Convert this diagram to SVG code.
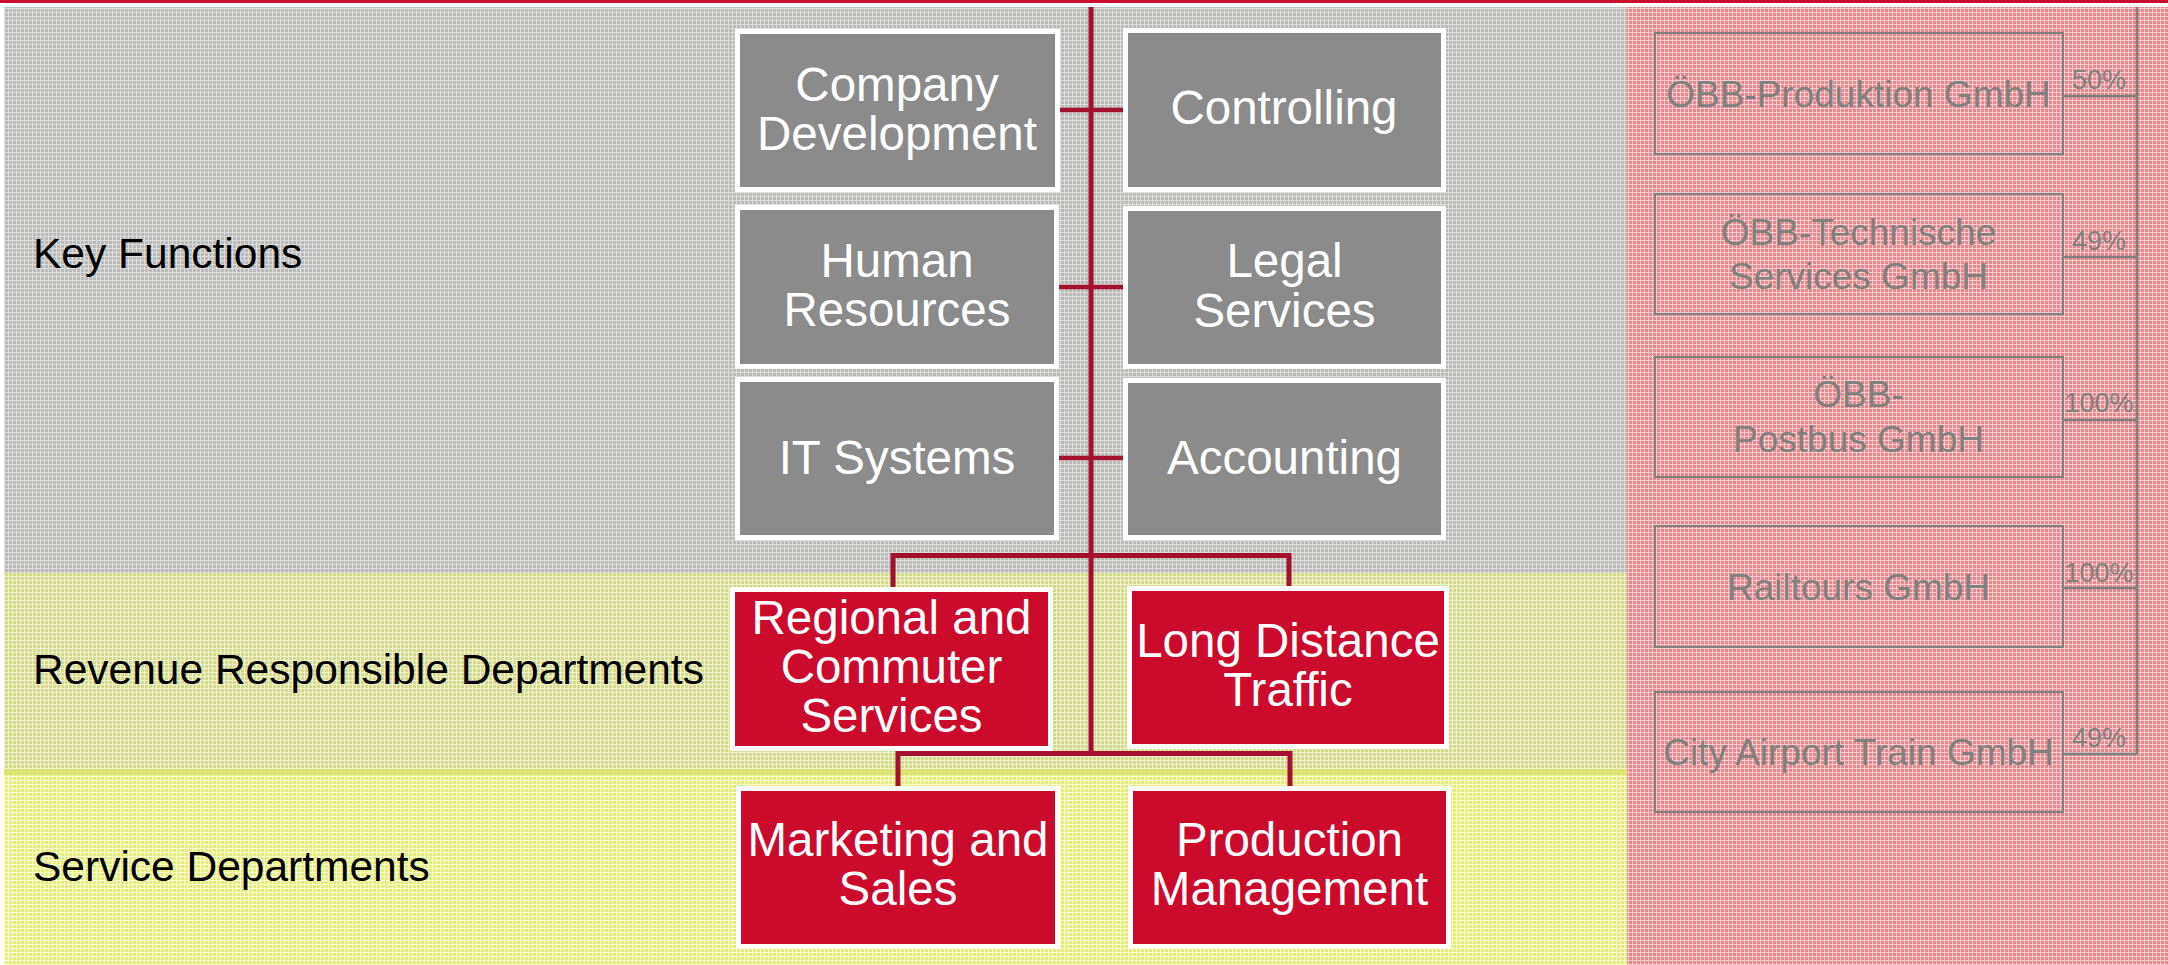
<svg xmlns="http://www.w3.org/2000/svg" width="2168" height="965" viewBox="0 0 2168 965">
  <defs>
    <!-- fine grid textures for the background bands -->
    <pattern id="texGray" width="4" height="4" patternUnits="userSpaceOnUse">
      <rect width="4" height="4" fill="#bababa"/>
      <path d="M0 0.5H4M0.5 0V4" stroke="#dcdcda" stroke-width="1"/>
    </pattern>
    <pattern id="texRevenue" width="4" height="4" patternUnits="userSpaceOnUse">
      <rect width="4" height="4" fill="#d4d98b"/>
      <path d="M0 0.5H4M0.5 0V4" stroke="#f0f2cd" stroke-width="1"/>
    </pattern>
    <pattern id="texService" width="4" height="4" patternUnits="userSpaceOnUse">
      <rect width="4" height="4" fill="#e4ed7d"/>
      <path d="M0 0.5H4M0.5 0V4" stroke="#f8fbcd" stroke-width="1"/>
    </pattern>
    <pattern id="texPink" width="4" height="4" patternUnits="userSpaceOnUse">
      <rect width="4" height="4" fill="#e6868d"/>
      <path d="M0 0.5H4M0.5 0V4" stroke="#f8cbce" stroke-width="1"/>
    </pattern>
  </defs>
  <style>
    text { font-family: "Liberation Sans", Arial, sans-serif; }
    .band-label { font-size: 42.5px; fill: #000000; }
    .box-gray { fill: #8b8b8b; stroke: #ffffff; stroke-width: 5; }
    .box-red { fill: #cb0a2c; stroke: #ffffff; stroke-width: 5; }
    .box-label { font-size: 47.5px; fill: #ffffff; text-anchor: middle; }
    .sub-box { fill: none; stroke: #808080; stroke-width: 2; }
    .sub-label { font-size: 37px; fill: #808080; text-anchor: middle; }
    .pct { font-size: 27px; fill: #808080; text-anchor: middle; }
    .org-line { fill: none; stroke: #a3112f; stroke-width: 5; }
    .stub { fill: none; stroke: #a3112f; stroke-width: 4.5; }
    .share-line { fill: none; stroke: #808080; stroke-width: 2.5; }
  </style>

  <!-- page background and top rule -->
  <rect x="0" y="0" width="2168" height="965" fill="#ffffff"/>
  <rect x="0" y="0" width="2168" height="3" fill="#c8102e"/>

  <!-- horizontal bands -->
  <g id="bands">
    <rect x="4" y="7" width="1623" height="566" fill="url(#texGray)"/>
    <rect x="4" y="573" width="1623" height="197" fill="url(#texRevenue)"/>
    <rect x="4" y="770" width="1623" height="195" fill="url(#texService)"/>
    <rect x="4" y="769" width="1623" height="6" fill="#d8e16a" opacity="0.8"/>
    <rect x="1627" y="7" width="541" height="958" fill="url(#texPink)"/>
  </g>

  <g id="band-labels">
    <text class="band-label" x="33" y="268">Key Functions</text>
    <text class="band-label" x="33" y="684">Revenue Responsible Departments</text>
    <text class="band-label" x="33" y="881">Service Departments</text>
  </g>

  <!-- org chart connectors -->
  <g id="connectors">
    <path class="org-line" d="M1091 7V756"/>
    <path class="stub" d="M1060 110H1123"/>
    <path class="stub" d="M1059 287H1123"/>
    <path class="stub" d="M1059 458H1123"/>
    <path class="org-line" d="M893 588V555.5H1289V587"/>
    <path class="org-line" d="M898 787V753.5H1290V787"/>
    <!-- shareholding lines -->
    <path class="share-line" d="M2137 7V754"/>
    <path class="share-line" d="M2063 96H2137"/>
    <path class="share-line" d="M2063 257H2137"/>
    <path class="share-line" d="M2063 420H2137"/>
    <path class="share-line" d="M2063 588H2137"/>
    <path class="share-line" d="M2063 754H2137"/>
  </g>

  <!-- key functions -->
  <g id="company-development">
    <rect class="box-gray" x="737.5" y="31.5" width="320" height="158"/>
    <text class="box-label" x="897" y="101">Company</text>
    <text class="box-label" x="897" y="150">Development</text>
  </g>
  <g id="controlling">
    <rect class="box-gray" x="1125.5" y="30.5" width="318" height="159"/>
    <text class="box-label" x="1284" y="124">Controlling</text>
  </g>
  <g id="human-resources">
    <rect class="box-gray" x="737.5" y="207.5" width="319" height="159"/>
    <text class="box-label" x="897" y="277">Human</text>
    <text class="box-label" x="897" y="326">Resources</text>
  </g>
  <g id="legal-services">
    <rect class="box-gray" x="1125.5" y="208.5" width="318" height="158"/>
    <text class="box-label" x="1284.5" y="277">Legal</text>
    <text class="box-label" x="1284.5" y="327">Services</text>
  </g>
  <g id="it-systems">
    <rect class="box-gray" x="737.5" y="379.5" width="319" height="158"/>
    <text class="box-label" x="897" y="474">IT Systems</text>
  </g>
  <g id="accounting">
    <rect class="box-gray" x="1125.5" y="380.5" width="318" height="157"/>
    <text class="box-label" x="1284.5" y="474">Accounting</text>
  </g>

  <!-- revenue responsible departments -->
  <g id="regional-commuter">
    <rect class="box-red" x="732.5" y="589.5" width="318" height="159"/>
    <text class="box-label" x="891.5" y="634">Regional and</text>
    <text class="box-label" x="891.5" y="683">Commuter</text>
    <text class="box-label" x="891.5" y="732">Services</text>
  </g>
  <g id="long-distance">
    <rect class="box-red" x="1129.5" y="588.5" width="317" height="158"/>
    <text class="box-label" x="1288" y="657">Long Distance</text>
    <text class="box-label" x="1288" y="706">Traffic</text>
  </g>

  <!-- service departments -->
  <g id="marketing-sales">
    <rect class="box-red" x="738.5" y="788.5" width="319" height="158"/>
    <text class="box-label" x="898" y="856">Marketing and</text>
    <text class="box-label" x="898" y="905">Sales</text>
  </g>
  <g id="production-management">
    <rect class="box-red" x="1130.5" y="788.5" width="318" height="158"/>
    <text class="box-label" x="1289.5" y="856">Production</text>
    <text class="box-label" x="1289.5" y="905">Management</text>
  </g>

  <!-- subsidiaries -->
  <g id="oebb-produktion">
    <rect class="sub-box" x="1655" y="33" width="408" height="121"/>
    <text class="sub-label" x="1858.5" y="107">ÖBB-Produktion GmbH</text>
    <text class="pct" x="2099" y="89">50%</text>
  </g>
  <g id="oebb-technische-services">
    <rect class="sub-box" x="1655" y="194" width="408" height="120"/>
    <text class="sub-label" x="1858.5" y="245">ÖBB-Technische</text>
    <text class="sub-label" x="1858.5" y="289">Services GmbH</text>
    <text class="pct" x="2099" y="250">49%</text>
  </g>
  <g id="oebb-postbus">
    <rect class="sub-box" x="1655" y="357" width="408" height="120"/>
    <text class="sub-label" x="1858.5" y="407">ÖBB-</text>
    <text class="sub-label" x="1858.5" y="452">Postbus GmbH</text>
    <text class="pct" x="2099" y="412">100%</text>
  </g>
  <g id="railtours">
    <rect class="sub-box" x="1655" y="526" width="408" height="121"/>
    <text class="sub-label" x="1858.5" y="600">Railtours GmbH</text>
    <text class="pct" x="2099" y="582">100%</text>
  </g>
  <g id="city-airport-train">
    <rect class="sub-box" x="1655" y="692" width="408" height="120"/>
    <text class="sub-label" x="1858.5" y="765">City Airport Train GmbH</text>
    <text class="pct" x="2099" y="747">49%</text>
  </g>
</svg>
